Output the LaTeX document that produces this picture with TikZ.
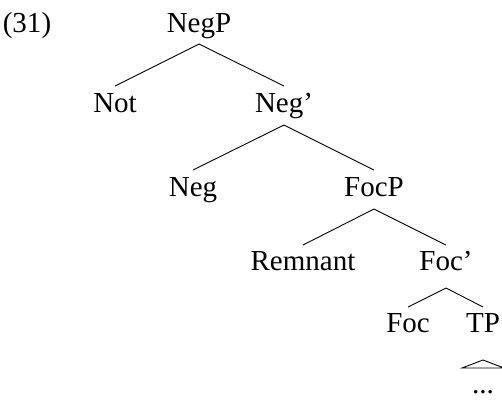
\documentclass[tikz,border=0pt]{standalone}
\usepackage{fontspec}
\setmainfont{Liberation Serif}
\usetikzlibrary{calc}
\begin{document}
\begin{tikzpicture}[x=1pt,y=-1pt,
  lbl/.style={anchor=base,inner sep=0pt,font=\fontsize{29}{30}\selectfont},
  branch/.style={line width=0.9pt},
  roof/.style={line width=0.9pt,line join=miter}]
\useasboundingbox (0,0) rectangle (502,400);
% example number
\node[lbl] (num) at (27,32) {(31)};
% tree labels (placed by baseline)
\node[lbl] (negp)  at (199,32)  {NegP};
\node[lbl] (not)   at (115,112) {Not};
\node[lbl] (negb)  at (284,112) {Neg'};
\node[lbl] (neg)   at (193,196) {Neg};
\node[lbl] (focp)  at (374,196) {FocP};
\node[lbl] (rem)   at (303,270) {Remnant};
\node[lbl] (focb)  at (446,270) {Foc'};
\node[lbl] (foc)   at (408,332) {Foc};
\node[lbl] (tp)    at (483,332) {TP};
\node[lbl,text depth=0pt] (dots) at (483,393) {...};
% branches: parent bottom to child top
\draw[branch] ($(negp.base)+(0,12)$) -- ($(not.base)+(0,-26)$);
\draw[branch] ($(negp.base)+(0,12)$) -- ($(negb.base)+(0,-26)$);
\draw[branch] ($(negb.base)+(0,13)$) -- ($(neg.base)+(0,-26)$);
\draw[branch] ($(negb.base)+(0,13)$) -- ($(focp.base)+(0,-26)$);
\draw[branch] ($(focp.base)+(0,13)$) -- ($(rem.base)+(0,-25)$);
\draw[branch] ($(focp.base)+(0,13)$) -- ($(focb.base)+(0,-25)$);
\draw[branch] ($(focb.base)+(0,18)$) -- ($(foc.base)+(0,-25)$);
\draw[branch] ($(focb.base)+(0,18)$) -- ($(tp.base)+(0,-25)$);
% roof over the elided TP content
\coordinate (apex) at ($(tp.base)+(0,28)$);
\draw[roof] (apex) -- ($(apex)+(-21,8)$) -- ($(apex)+(21,8)$) -- cycle;
\end{tikzpicture}
\end{document}
